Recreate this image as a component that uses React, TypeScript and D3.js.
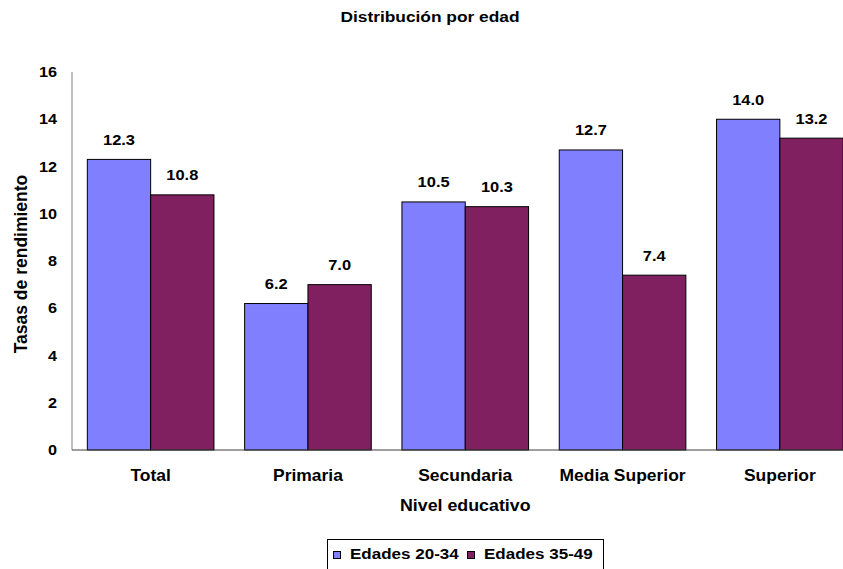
import React from "react";
import * as d3 from "d3";

const categories = ["Total", "Primaria", "Secundaria", "Media Superior", "Superior"];
const seriesNames = ["Edades 20-34", "Edades 35-49"];
const edades2034 = [12.3, 6.2, 10.5, 12.7, 14.0];
const edades3549 = [10.8, 7.0, 10.3, 7.4, 13.2];
const yTicks = [0, 2, 4, 6, 8, 10, 12, 14, 16];
const colors = ["#8080FF", "#802060"];

const W = 843;
const H = 569;
const font = "'Liberation Sans', Arial, sans-serif";
const SX = 1.12; // horizontal widening of the label glyphs

type LabelProps = { x: number; y: number; size: number; anchor?: "start" | "middle" | "end"; children: React.ReactNode };

function Label({ x, y, size, anchor = "middle", children }: LabelProps) {
  return (
    <text transform={`translate(${x},${y}) scale(${SX},1)`} textAnchor={anchor} fontSize={size} fontWeight="bold" fill="#000">
      {children}
    </text>
  );
}

export default function App() {
  const left = 72;
  const top = 72;
  const bottom = 450;
  const right = 858.5;

  const x0 = d3.scaleBand<string>().domain(categories).range([left, right]).paddingInner(0.195).paddingOuter(0.0975);
  const x1 = d3.scaleBand<number>().domain([0, 1]).range([0, x0.bandwidth()]);
  const y = d3.scaleLinear().domain([0, 16]).range([bottom, top]);
  const series = [edades2034, edades3549];

  return (
    <svg width={W} height={H} style={{ position: "absolute", left: 0, top: 0, fontFamily: font }}>
      <rect x={0} y={0} width={W} height={H} fill="#fff" />
      <Label x={430} y={22} size={15.5}>Distribución por edad</Label>

      {yTicks.map((t) => (
        <Label key={t} x={57} y={y(t) + 5} size={14.5} anchor="end">{t}</Label>
      ))}

      {categories.map((c, i) =>
        series.map((s, k) => {
          const bx = (x0(c) as number) + (x1(k) as number);
          const v = s[i];
          return (
            <g key={c + k}>
              <rect x={bx} y={y(v)} width={x1.bandwidth()} height={bottom - y(v)} fill={colors[k]} stroke="#000" strokeWidth={1} />
              <Label x={bx + x1.bandwidth() / 2} y={y(v) - 14.5} size={14.7}>{v.toFixed(1)}</Label>
            </g>
          );
        })
      )}

      <line x1={left} y1={top} x2={left} y2={bottom} stroke="#808080" strokeWidth={1} />
      <line x1={left} y1={bottom} x2={W} y2={bottom} stroke="#404040" strokeWidth={1} />

      {categories.map((c) => (
        <Label key={c} x={(x0(c) as number) + x0.bandwidth() / 2} y={481} size={15.6}>{c}</Label>
      ))}

      <Label x={(left + right) / 2} y={511} size={15.9}>Nivel educativo</Label>
      <text transform="translate(27,264) rotate(-90)" textAnchor="middle" fontSize={17.5} fontWeight="bold">Tasas de rendimiento</text>

      <rect x={327.5} y={539.5} width={276} height={32} fill="#fff" stroke="#000" strokeWidth={1} />
      {seriesNames.map((n, k) => {
        const mx = k === 0 ? 333 : 467;
        return (
          <g key={n}>
            <rect x={mx + 0.5} y={551.5} width={7} height={7} fill={colors[k]} stroke="#000" strokeWidth={1} />
            <Label x={mx + 17} y={559} size={15.2} anchor="start">{n}</Label>
          </g>
        );
      })}
    </svg>
  );
}
